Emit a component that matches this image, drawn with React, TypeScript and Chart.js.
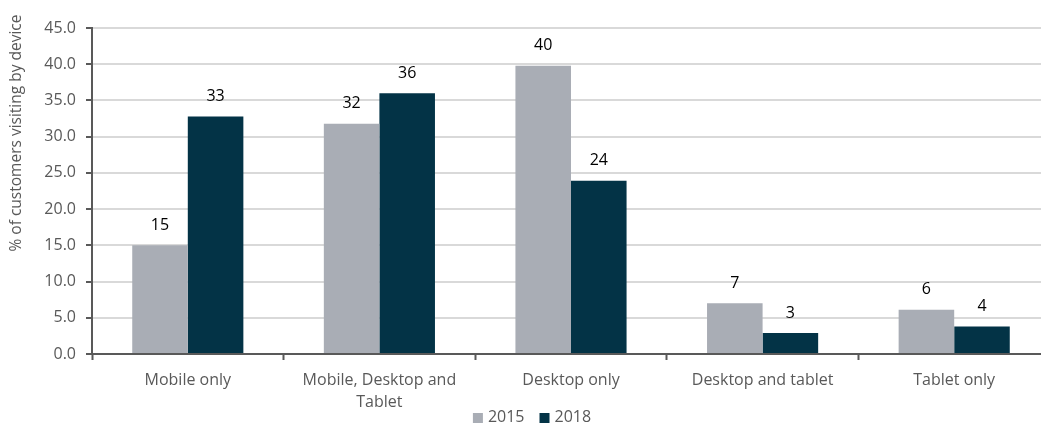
import React, { useEffect, useRef } from "react";
import { Chart, registerables } from "chart.js";

Chart.register(...registerables);

const categories: (string | string[])[] = [
  "Mobile only",
  ["Mobile, Desktop and", "Tablet"],
  "Desktop only",
  "Desktop and tablet",
  "Tablet only",
];
const series2015 = [15, 31.8, 39.8, 7, 6.1];
const series2018 = [32.8, 36, 23.9, 2.9, 3.8];
const seriesNames = ["2015", "2018"];
const yTitle = "% of customers visiting by device";

const GRAY = "#a9adb5";
const DARK = "#033346";
const AXIS = "#595959";
const FONT = "'Open Sans', sans-serif";

export default function App() {
  const ref = useRef<HTMLCanvasElement | null>(null);
  useEffect(() => {
    document.documentElement.style.overflow = "hidden";
    document.body.style.overflow = "hidden";
    const canvas = ref.current!;
    const labelPlugin = {
      id: "valueLabels",
      afterDatasetsDraw(chart: any) {
        const ctx = chart.ctx;
        ctx.save();
        ctx.font = `16px ${FONT}`;
        ctx.fillStyle = "#000";
        ctx.textAlign = "center";
        ctx.textBaseline = "middle";
        chart.data.datasets.forEach((ds: any, di: number) => {
          const meta = chart.getDatasetMeta(di);
          meta.data.forEach((el: any, i: number) => {
            ctx.fillText(String(Math.round(ds.data[i])), el.x, el.y - 20);
          });
        });
        ctx.restore();
      },
    };
    const titlePlugin = {
      id: "yTitle",
      afterDraw(chart: any) {
        const ctx = chart.ctx;
        ctx.save();
        ctx.translate(17, 133);
        ctx.rotate(-Math.PI / 2);
        ctx.font = `15.5px ${FONT}`;
        ctx.fillStyle = AXIS;
        ctx.textAlign = "center";
        ctx.textBaseline = "middle";
        ctx.fillText(yTitle, 0, 0);
        ctx.restore();
      },
    };
    const legendPlugin = {
      id: "customLegend",
      afterDraw(chart: any) {
        const ctx = chart.ctx;
        ctx.save();
        ctx.font = `16px ${FONT}`;
        ctx.textBaseline = "middle";
        ctx.textAlign = "left";
        const box = 10;
        const gap = 5;
        const spacing = 15;
        const items = chart.data.datasets.map((ds: any) => ({
          label: ds.label,
          color: ds.backgroundColor,
          w: box + gap + ctx.measureText(ds.label).width,
        }));
        const total = items.reduce((s: number, it: any) => s + it.w, 0) + spacing * (items.length - 1);
        let x = chart.width / 2 + 6 - total / 2;
        const y = 417;
        items.forEach((it: any) => {
          ctx.fillStyle = it.color;
          ctx.fillRect(x, y - box / 2 + 1, box, box);
          ctx.fillStyle = AXIS;
          ctx.fillText(it.label, x + box + gap, y);
          x += it.w + spacing;
        });
        ctx.restore();
      },
    };
    const chart = new Chart(canvas, {
      type: "bar",
      data: {
        labels: categories,
        datasets: [
          {
            label: seriesNames[0],
            data: series2015,
            backgroundColor: GRAY,
            categoryPercentage: 0.58,
            barPercentage: 1,
          },
          {
            label: seriesNames[1],
            data: series2018,
            backgroundColor: DARK,
            categoryPercentage: 0.58,
            barPercentage: 1,
          },
        ],
      },
      options: {
        responsive: false,
        animation: false,
        layout: { padding: { left: 0, right: 2, top: 28, bottom: 0 } },
        plugins: {
          legend: { display: false },
          tooltip: { enabled: false },
        },
        scales: {
          x: {
            grid: {
              offset: true,
              drawOnChartArea: false,
              drawTicks: true,
              tickLength: 6,
              tickColor: AXIS,
              tickWidth: 2,
            },
            border: { color: AXIS, width: 2 },
            ticks: {
              font: { family: FONT, size: 16, lineHeight: 1.4 },
              color: AXIS,
              padding: 9,
              maxRotation: 0,
              autoSkip: false,
            },
            afterFit(scale: any) {
              scale.height = 71;
            },
          },
          y: {
            min: 0,
            max: 45,
            grid: {
              color: "#d9d9d9",
              lineWidth: 2,
              tickLength: 6,
              tickColor: AXIS,
              tickWidth: 2,
            },
            border: { color: AXIS, width: 2 },
            ticks: {
              stepSize: 5,
              font: { family: FONT, size: 16 },
              color: AXIS,
              padding: 10,
              callback: (v: any) => Number(v).toFixed(1),
            },
            afterFit(scale: any) {
              scale.width = 92;
            },
          },
        },
      },
      plugins: [labelPlugin, titlePlugin, legendPlugin],
    });
    return () => chart.destroy();
  }, []);
  return (
    <canvas
      ref={ref}
      width={1052}
      height={425}
      style={{ position: "absolute", left: 0, top: 0, display: "block" }}
    />
  );
}
